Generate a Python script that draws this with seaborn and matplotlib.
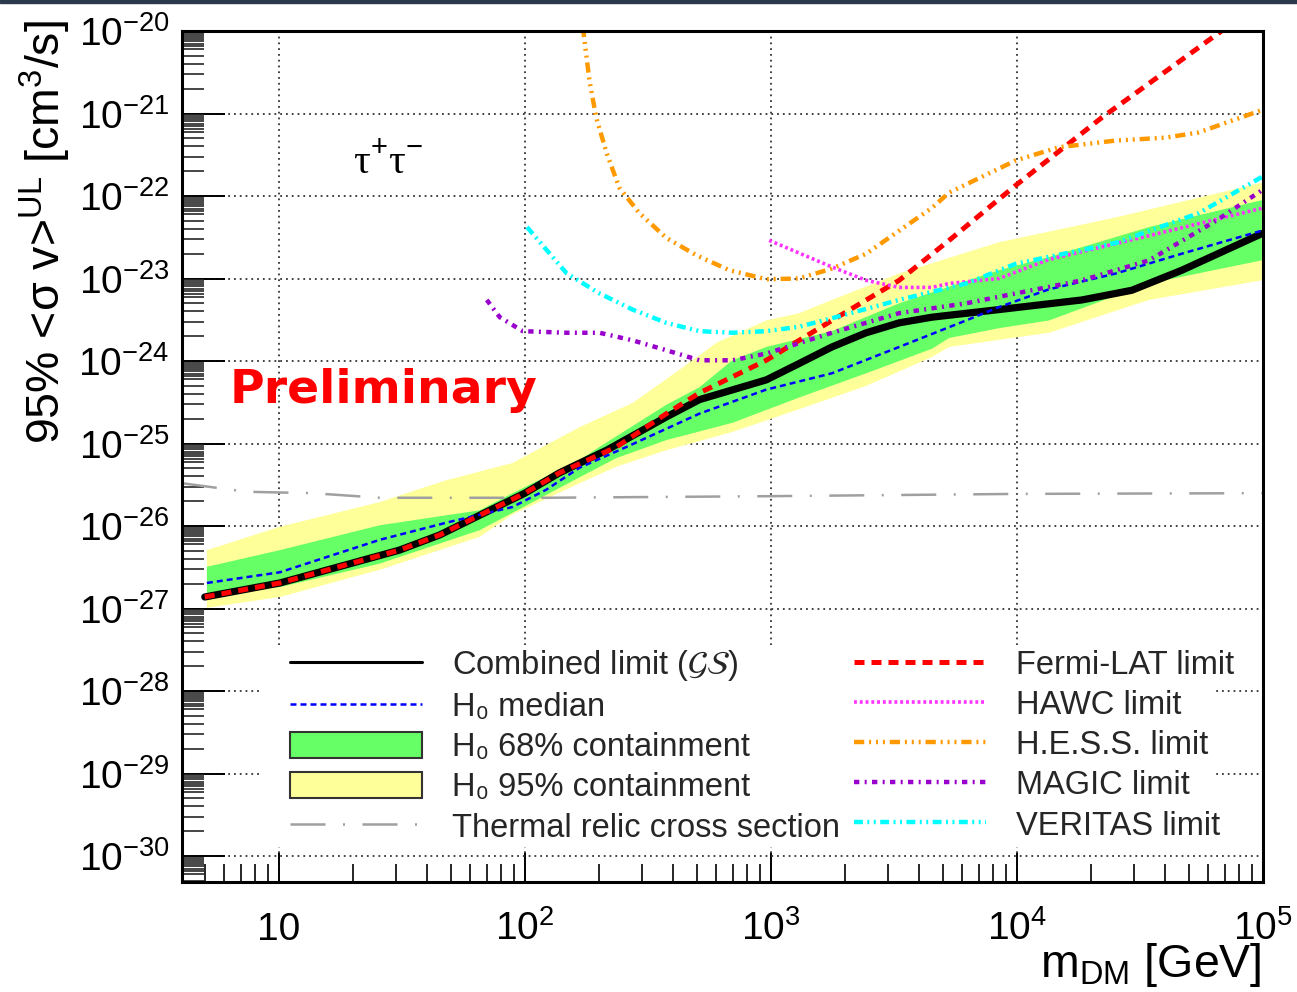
import numpy as np
import matplotlib
matplotlib.use("Agg")
import matplotlib.pyplot as plt
import matplotlib.patches as mpatches
from matplotlib.lines import Line2D
from matplotlib.ticker import LogLocator, NullFormatter
import seaborn as sns

# ---- data (m in GeV, <sigma v> in cm^3/s) ----
combined_m = [5.0, 10.1, 30.9, 45.1, 65.5, 100, 138, 215, 376, 512, 957, 1300, 1770,
              2440, 3320, 4520, 8450, 18400, 29300, 46800, 98900]
combined_sv = [1.38e-27, 2.04e-27, 5.1e-27, 7.8e-27, 1.35e-26, 2.5e-26, 4.4e-26, 8.3e-26,
               2.1e-25, 3.4e-25, 5.9e-25, 9.3e-25, 1.48e-24, 2.2e-24, 2.9e-24, 3.4e-24,
               4.2e-24, 5.5e-24, 7.2e-24, 1.26e-23, 3.5e-23]

median_m = [5.1, 10.1, 25.7, 48.1, 89.1, 122, 167, 259, 512, 957, 1770, 3320, 6210,
            8450, 13500, 25200, 46800, 98900]
median_sv = [2.04e-27, 2.75e-27, 6.8e-27, 1.10e-26, 1.70e-26, 2.75e-26, 5.1e-26, 9.1e-26,
             2.3e-25, 4.5e-25, 7.1e-25, 1.48e-24, 3.1e-24, 4.5e-24, 7.4e-24, 1.15e-23,
             2.0e-23, 3.8e-23]

c95_up_m = [5.1, 10.1, 25.7, 48.1, 89.1, 167, 274, 437, 600, 957, 1300, 1770, 3320,
            8450, 25200, 98900]
c95_up = [5.1e-27, 9.8e-27, 1.95e-26, 3.6e-26, 5.8e-26, 1.58e-25, 3.1e-25, 8.3e-25,
          1.66e-24, 3.1e-24, 3.8e-24, 5.5e-24, 1.15e-23, 2.75e-23, 5.5e-23, 1.45e-22]
c95_lo_m = [5.1, 10.1, 25.7, 65.5, 89.1, 167, 234, 376, 697, 1300, 2440, 4520, 5300,
            13500, 34400, 98900]
c95_lo = [1.02e-27, 1.38e-27, 2.95e-27, 7.4e-27, 1.38e-26, 3.3e-26, 5.2e-26, 8.3e-26,
          1.38e-25, 2.6e-25, 5.0e-25, 1.12e-24, 1.48e-24, 2.2e-24, 5.5e-24, 9.5e-24]

c68_up_m = [5.1, 10.1, 25.7, 65.5, 89.1, 167, 201, 376, 512, 697, 957, 1770, 3320,
            8450, 13500, 34400, 98900]
c68_up = [3.2e-27, 5.1e-27, 1.02e-26, 1.55e-26, 2.5e-26, 6.3e-26, 9.1e-26, 2.95e-25,
          4.8e-25, 1.02e-24, 1.48e-24, 2.3e-24, 5.0e-24, 1.26e-23, 1.82e-23, 4.2e-23, 8.9e-23]
c68_lo_m = [5.1, 10.1, 25.7, 65.5, 167, 234, 376, 697, 1300, 2440, 4520, 5300, 8450,
            13500, 34400, 98900]
c68_lo = [1.55e-27, 1.82e-27, 3.5e-27, 8.9e-27, 3.9e-26, 6.6e-26, 1.10e-25, 1.78e-25,
          3.6e-25, 7.1e-25, 1.41e-24, 1.9e-24, 2.5e-24, 3.1e-24, 8.7e-24, 1.66e-23]

thermal_m = [4.04, 7.4, 13.7, 25.7, 122, 1010, 10100, 98900]
thermal_sv = [3.3e-26, 2.6e-26, 2.5e-26, 2.2e-26, 2.2e-26, 2.3e-26, 2.45e-26, 2.5e-26]

fermi_m = [5.0, 10.1, 30.9, 45.1, 65.5, 100, 138, 236, 376, 512, 957, 1770, 3320,
           5300, 9900, 22100, 66200, 72400]
fermi_sv = [1.38e-27, 2.04e-27, 5.1e-27, 7.8e-27, 1.35e-26, 2.5e-26, 4.4e-26, 9.1e-26,
            2.3e-25, 4.1e-25, 1.02e-24, 3.1e-24, 9.5e-24, 2.9e-23, 1.35e-22, 8.9e-22,
            9.5e-21, 1.15e-20]

hawc_m = [984, 1770, 2440, 3320, 4520, 5300, 8450, 13500, 34400, 98900]
hawc_sv = [2.9e-23, 1.38e-23, 9.5e-24, 7.8e-24, 7.8e-24, 8.7e-24, 1.0e-23, 1.7e-23,
           3.3e-23, 7.1e-23]

hess_m = [172, 183, 195, 215, 242, 292, 376, 498, 678, 957, 1300, 1770, 2440, 4520,
          5300, 9900, 14800, 25200, 40300, 54800, 98900]
hess_sv = [1.12e-20, 2.5e-21, 8.9e-22, 3.3e-22, 1.26e-22, 6.2e-23, 3.1e-23, 1.91e-23,
           1.26e-23, 9.8e-24, 1.0e-23, 1.32e-23, 2.0e-23, 7.2e-23, 1.10e-22, 2.7e-22,
           3.9e-22, 4.7e-22, 5.1e-22, 5.9e-22, 1.10e-21]

magic_m = [70, 79, 98, 148, 201, 274, 376, 512, 697, 957, 1770, 3320, 6210, 9900,
           18400, 34400, 64300, 98900]
magic_sv = [5.5e-24, 3.4e-24, 2.3e-24, 2.2e-24, 2.2e-24, 1.78e-24, 1.35e-24, 1.02e-24,
            1.02e-24, 1.23e-24, 2.2e-24, 3.8e-24, 5.0e-24, 6.6e-24, 9.5e-24, 1.66e-23,
            5.0e-23, 1.17e-22]

veritas_m = [102, 148, 201, 274, 376, 512, 697, 957, 1300, 1770, 3320, 6210, 9900,
             25200, 54800, 98900]
veritas_sv = [4.2e-23, 1.15e-23, 6.6e-24, 4.2e-24, 2.9e-24, 2.3e-24, 2.2e-24, 2.3e-24,
              2.6e-24, 3.3e-24, 5.5e-24, 8.7e-24, 1.51e-23, 2.7e-23, 6.2e-23, 1.70e-22]

xtick_vals = [10, 1e2, 1e3, 1e4, 1e5]
xtick_labels = ["10", r"$10^{2}$", r"$10^{3}$", r"$10^{4}$", r"$10^{5}$"]
ytick_exps = list(range(-30, -19))

# ---- style ----
sns.set_theme(style="ticks")
plt.rcParams['font.family'] = ['Liberation Sans', 'DejaVu Sans']
plt.rcParams['mathtext.fontset'] = 'custom'
plt.rcParams['mathtext.rm'] = 'Liberation Sans'
plt.rcParams['mathtext.it'] = 'Liberation Sans:italic'
plt.rcParams['mathtext.bf'] = 'Liberation Sans:bold'
plt.rcParams['mathtext.sf'] = 'Liberation Sans'

GREEN = '#66ff66'
YELLOW = '#ffff99'
ls_red = (0, (2.0, 1.4))
ls_blue = (0, (2.4, 1.6))
ls_hawc = (0, (0.8, 0.8))
ls_hess = (0, (2.3, 1.1, 0.45, 1.1, 0.45, 1.1, 0.45, 1.1))
ls_magic = (0, (1.2, 1.2, 0.45, 1.2))
ls_veritas = (0, (2.0, 1.0, 0.45, 1.0, 0.45, 1.0))
ls_thermal = (0, (14, 7, 0.8, 7))

fig = plt.figure(figsize=(12.97, 9.92), dpi=100)
fig.patches.append(mpatches.Rectangle((0, 1 - 3 / 992), 1, 3 / 992, transform=fig.transFigure,
                                      color='#2b3a4a', zorder=0))
ax = fig.add_axes([182 / 1297, 1 - 882 / 992, 1081 / 1297, 851 / 992])
ax.set_xscale('log')
ax.set_yscale('log')
ax.set_axisbelow(True)

# containment bands
ax.fill(np.r_[c95_up_m, c95_lo_m[::-1]], np.r_[c95_up, c95_lo[::-1]], color=YELLOW, lw=0, zorder=1.2)
ax.fill(np.r_[c68_up_m, c68_lo_m[::-1]], np.r_[c68_up, c68_lo[::-1]], color=GREEN, lw=0, zorder=1.3)

def line(x, y, **kw):
    sns.lineplot(x=x, y=y, ax=ax, estimator=None, legend=False, **kw)

line(thermal_m, thermal_sv, color='#a0a0a0', lw=1.8, linestyle=ls_thermal, zorder=1.5)
line(combined_m, combined_sv, color='black', lw=5.2, zorder=2.0)
line(median_m, median_sv, color='blue', lw=1.8, linestyle=ls_blue, zorder=2.1)
line(fermi_m, fermi_sv, color='red', lw=3.6, linestyle=ls_red, zorder=2.2)
line(hawc_m, hawc_sv, color='#ff33ff', lw=2.6, linestyle=ls_hawc, zorder=2.3)
line(hess_m, hess_sv, color='#ff9900', lw=3.2, linestyle=ls_hess, zorder=2.3)
line(magic_m, magic_sv, color='#9900cc', lw=3.2, linestyle=ls_magic, zorder=2.3)
line(veritas_m, veritas_sv, color='#00ffff', lw=3.2, linestyle=ls_veritas, zorder=2.3)

# axes, ticks, grid
ax.set_xlim(4.04, 1e5)
ax.set_ylim(10 ** -30.315, 1e-20)
ax.set_xticks(xtick_vals, labels=xtick_labels)
ax.set_yticks([10.0 ** e for e in ytick_exps], labels=[r"$10^{%d}$" % e for e in ytick_exps])
ax.xaxis.set_minor_locator(LogLocator(base=10, subs=np.arange(2, 10), numticks=100))
ax.yaxis.set_minor_locator(LogLocator(base=10, subs=[2, 3, 4, 5, 6, 6.5, 7, 7.5, 8, 8.5, 9, 9.5],
                                      numticks=300))
ax.xaxis.set_minor_formatter(NullFormatter())
ax.yaxis.set_minor_formatter(NullFormatter())
ax.tick_params(axis='x', which='major', direction='in', length=21, width=1.4, pad=42,
               labelsize=28, top=False, colors='black')
ax.tick_params(axis='x', which='minor', direction='in', length=13, width=1.4, top=False)
ax.tick_params(axis='y', which='major', direction='in', length=31, width=1.4, pad=9,
               labelsize=28, right=False, colors='black')
ax.tick_params(axis='y', which='minor', direction='in', length=16, width=1.2, right=False)
for lab in ax.get_xticklabels():
    lab.set_verticalalignment('baseline')
ax.grid(True, which='major', color='#333333', linestyle=(0, (1, 2.2)), linewidth=1.3)
for sp in ax.spines.values():
    sp.set_linewidth(2.2)
    sp.set_color('black')
ax.set_xlabel('')
ax.set_ylabel('')

# white legend background (covers the grid only)
ax.add_patch(mpatches.Rectangle((0.074, 0.041), 0.88, 0.238, transform=ax.transAxes,
                                facecolor='white', edgecolor='none', zorder=0.9))

handles = [
    Line2D([], [], color='black', lw=2.2),
    Line2D([], [], color='blue', lw=1.8, linestyle=ls_blue),
    mpatches.Patch(facecolor=GREEN, edgecolor='#333333', lw=1.5),
    mpatches.Patch(facecolor=YELLOW, edgecolor='#333333', lw=1.5),
    Line2D([], [], color='#a0a0a0', lw=1.8, linestyle=ls_thermal),
    Line2D([], [], color='red', lw=3.6, linestyle=ls_red),
    Line2D([], [], color='#ff33ff', lw=2.6, linestyle=ls_hawc),
    Line2D([], [], color='#ff9900', lw=3.2, linestyle=ls_hess),
    Line2D([], [], color='#9900cc', lw=3.2, linestyle=ls_magic),
    Line2D([], [], color='#00ffff', lw=3.2, linestyle=ls_veritas),
]
labels = [r'Combined limit ($\mathcal{GS}$)', 'H\u2080 median', 'H\u2080 68% containment',
          'H\u2080 95% containment', 'Thermal relic cross section',
          'Fermi-LAT limit', 'HAWC limit', 'H.E.S.S. limit', 'MAGIC limit', 'VERITAS limit']
leg = ax.legend(handles, labels, ncol=2, loc='upper left',
                bbox_to_anchor=(290 / 1297, 1 - 648 / 992), bbox_transform=fig.transFigure,
                frameon=False, fontsize=23.5, handlelength=4.05, handleheight=0.85,
                handletextpad=0.9, columnspacing=0.45, labelspacing=0.27,
                borderpad=0, borderaxespad=0)
leg.set_zorder(5)
leg.get_texts()[0].set_math_fontfamily('stix')

# texts
fig.text(45 / 1297, 1 - 20 / 992, r'95% <σ v>$^{\rm UL}$ [cm$^{3}$/s]', rotation=90,
         ha='center', va='top', fontsize=33.5, color='black')
fig.text(1262 / 1297, 1 - 977 / 992, r'm$_{\rm DM}$ [GeV]', ha='right', va='baseline',
         fontsize=33.5, color='black')
fig.text(353 / 1297, 1 - 173 / 992, r'τ$^{+}$τ$^{-}$', family=['Liberation Serif', 'DejaVu Serif'],
         fontsize=30, va='baseline', ha='left', color='black')
fig.text(230 / 1297, 1 - 403 / 992, 'Preliminary', color='red', fontweight='bold',
         family='DejaVu Sans', fontsize=34, va='baseline', ha='left')

fig.savefig('out.png', dpi=100)
